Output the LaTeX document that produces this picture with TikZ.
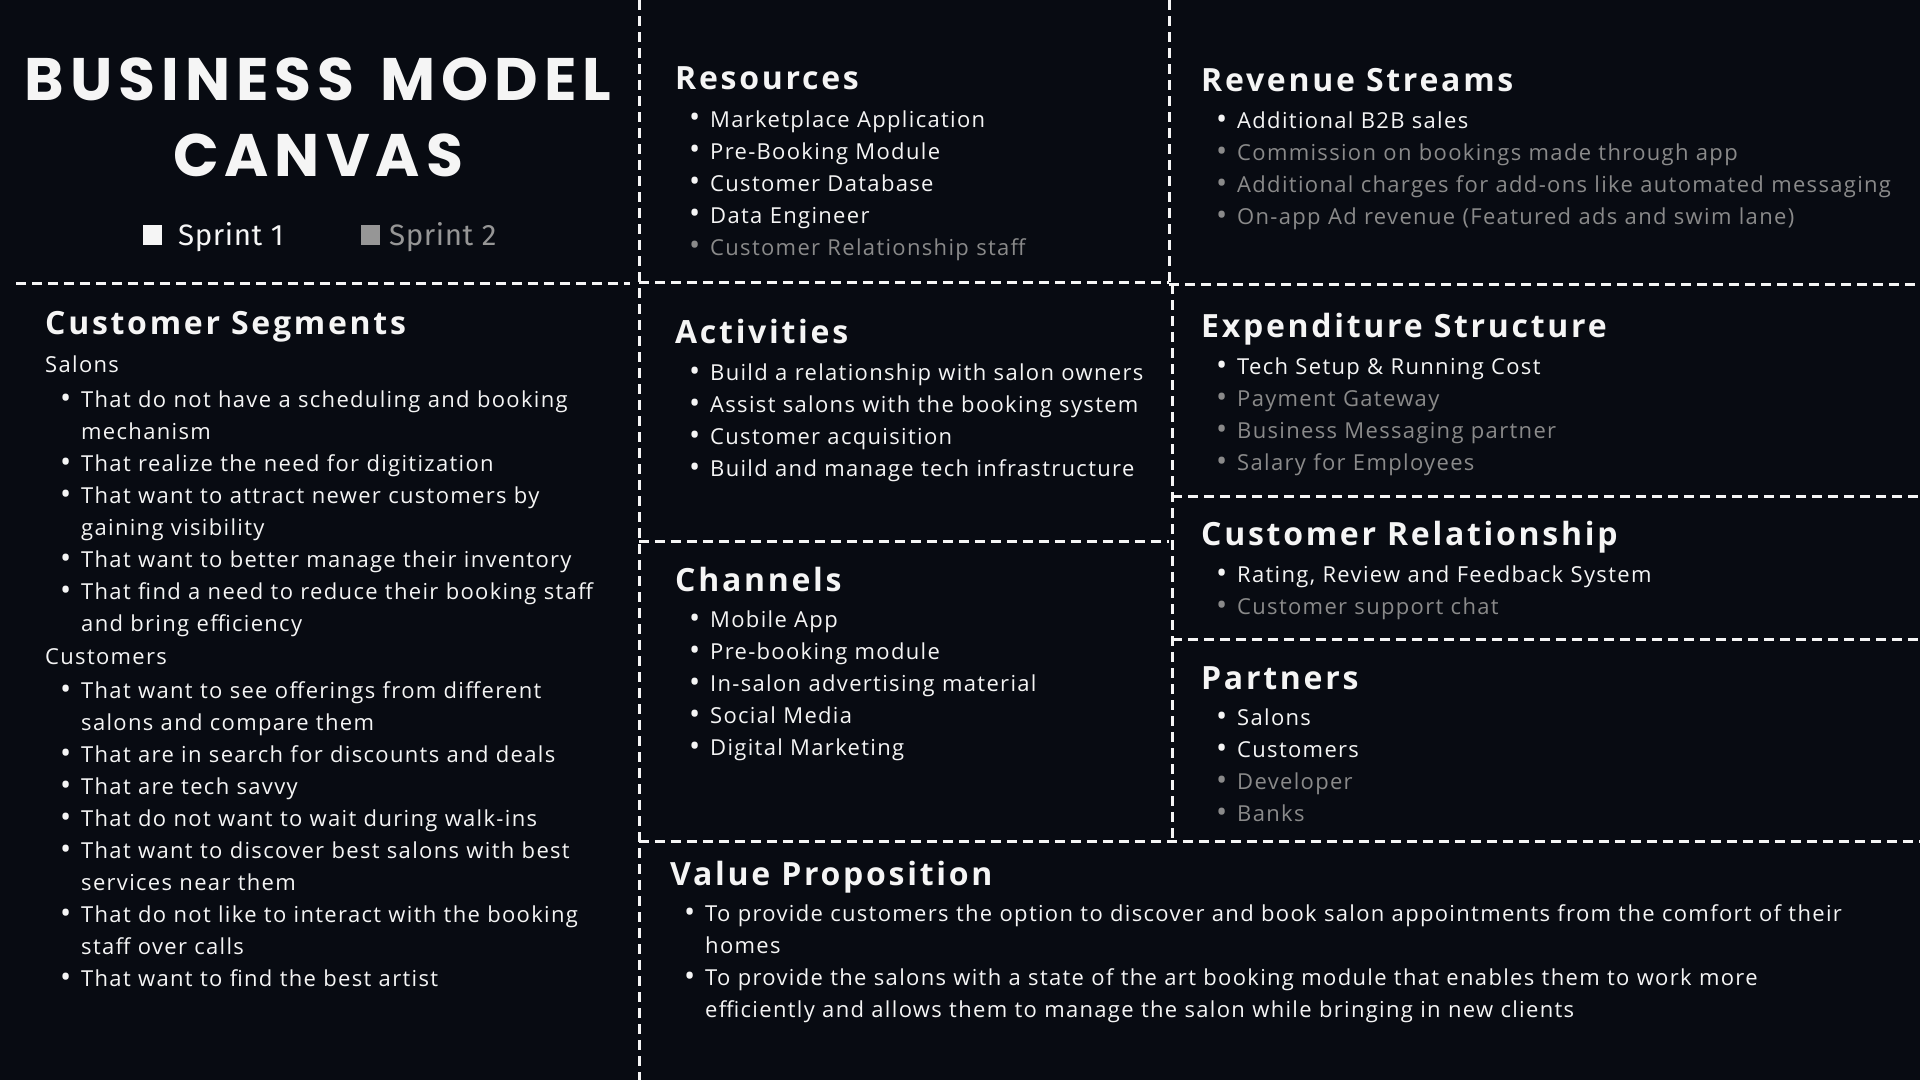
\documentclass[tikz,border=0pt]{standalone}
\usepackage{fontspec}
\setmainfont{Open Sans}
\newfontfamily\titlefont{Poppins}[LetterSpace=10]
\newfontfamily\headfont{Open Sans}[LetterSpace=8.5]
\newfontfamily\bodyfont{Open Sans}[LetterSpace=6]
\newfontfamily\legendfont{Fira Sans}[LetterSpace=2]
\usepackage{tikz}
\usetikzlibrary{positioning}

\definecolor{bgc}{RGB}{8,11,18}
\definecolor{txt}{RGB}{245,245,245}
\definecolor{sgrey}{RGB}{138,138,138}
\definecolor{boxgrey}{RGB}{150,150,150}

% bullet and hanging indent for the item lists
\newcommand{\bl}{\makebox[21pt][l]{\raisebox{-0.08ex}{\scalebox{1.35}{\textbullet}}}}
\newcommand{\hang}{\hspace*{21pt}}

\begin{document}
\begin{tikzpicture}[
    x=1pt, y=-1pt,
    divider/.style={draw=txt, line width=3pt, dash pattern=on 10pt off 6pt},
    title/.style={anchor=base, text=txt, inner sep=0, font=\titlefont\bfseries\fontsize{60}{70}\selectfont},
    heading/.style={anchor=base west, text=txt, inner sep=0, font=\headfont\bfseries\fontsize{32}{38}\selectfont},
    list/.style={anchor=north west, text=txt, inner sep=0, text width=1400pt, align=left, font=\bodyfont\fontsize{22}{32}\selectfont},
    legend/.style={anchor=base west, inner sep=0, font=\legendfont\fontsize{29.5}{32}\selectfont}
]

% Background
\useasboundingbox (0,0) rectangle (1920,1080);
\fill[bgc] (0,0) rectangle (1920,1080);

% Dashed grid of the canvas
\draw[divider] (639,0) -- (639,1080);
\draw[divider] (1169,0) -- (1169,284);
\draw[divider] (1172,284) -- (1172,841);
\draw[divider] (16,283) -- (630,283);
\draw[divider] (639,282) -- (1169,282);
\draw[divider] (1169,284) -- (1920,284);
\draw[divider] (639,541) -- (1169,541);
\draw[divider] (1172,496) -- (1920,496);
\draw[divider] (1172,639) -- (1920,639);
\draw[divider] (639,841) -- (1920,841);

% Title and legend
\node[title] (title1) at (318,100) {BUSINESS\hspace{7pt} MODEL};
\node[title] (title2) at (318,176) {CANVAS};
\fill[txt] (143,225) rectangle (162,245);
\node[legend, text=txt] (sprint1) at (178,245) {Sprint 1};
\fill[boxgrey] (361,225) rectangle (380,245);
\node[legend, text=boxgrey] (sprint2) at (389,245) {Sprint 2};

% Customer Segments
\node[heading] (seghead) at (45,334) {Customer Segments};
\node[list] (seglist) at (45,349.6) {\strut Salons\\[3.5pt]
\hspace*{15pt}\bl That do not have a scheduling and booking\\
\hspace*{36pt}mechanism\\
\hspace*{15pt}\bl That realize the need for digitization\\
\hspace*{15pt}\bl That want to attract newer customers by\\
\hspace*{36pt}gaining visibility\\
\hspace*{15pt}\bl That want to better manage their inventory\\
\hspace*{15pt}\bl That find a need to reduce their booking staff\\
\hspace*{36pt}and bring efficiency\\[1pt]
Customers\\[1.5pt]
\hspace*{15pt}\bl That want to see offerings from different\\
\hspace*{36pt}salons and compare them\\
\hspace*{15pt}\bl That are in search for discounts and deals\\
\hspace*{15pt}\bl That are tech savvy\\
\hspace*{15pt}\bl That do not want to wait during walk-ins\\
\hspace*{15pt}\bl That want to discover best salons with best\\
\hspace*{36pt}services near them\\
\hspace*{15pt}\bl That do not like to interact with the booking\\
\hspace*{36pt}staff over calls\\
\hspace*{15pt}\bl That want to find the best artist};

% Resources
\node[heading] (reshead) at (675,89) {Resources};
\node[list] (reslist) at (689,104.4) {\strut\bl Marketplace Application\\
\bl Pre-Booking Module\\
\bl Customer Database\\
\bl Data Engineer\\
\color{sgrey}\bl Customer Relationship staff};

% Activities
\node[heading] (acthead) at (675,343) {Activities};
\node[list] (actlist) at (689,357.6) {\strut\bl Build a relationship with salon owners\\
\bl Assist salons with the booking system\\
\bl Customer acquisition\\
\bl Build and manage tech infrastructure};

% Channels
\node[heading] (chahead) at (675,591) {Channels};
\node[list] (chalist) at (689,605) {\strut\bl Mobile App\\
\bl Pre-booking module\\
\bl In-salon advertising material\\
\bl Social Media\\
\bl Digital Marketing};

% Revenue Streams
\node[heading] (revhead) at (1201,91) {Revenue Streams};
\node[list] (revlist) at (1216,105.5) {\strut\bl Additional B2B sales\\
\color{sgrey}\bl Commission on bookings made through app\\
\bl Additional charges for add-ons like automated messaging\\
\bl On-app Ad revenue (Featured ads and swim lane)};

% Expenditure Structure
\node[heading] (exphead) at (1201,337) {Expenditure Structure};
\node[list] (explist) at (1216,351.7) {\strut\bl Tech Setup \& Running Cost\\
\color{sgrey}\bl Payment Gateway\\
\bl Business Messaging partner\\
\bl Salary for Employees};

% Customer Relationship
\node[heading] (relhead) at (1201,545) {Customer Relationship};
\node[list] (rellist) at (1216,559.8) {\strut\bl Rating, Review and Feedback System\\
\color{sgrey}\bl Customer support chat};

% Partners
\node[heading] (parhead) at (1201,689) {Partners};
\node[list] (parlist) at (1216,703) {\strut\bl Salons\\
\bl Customers\\
\color{sgrey}\bl Developer\\
\bl Banks};

% Value Proposition
\node[heading] (valhead) at (670,885) {Value Proposition};
\node[list] (vallist) at (684,899) {\strut\bl To provide customers the option to discover and book salon appointments from the comfort of their\\
\hang homes\\
\bl To provide the salons with a state of the art booking module that enables them to work more\\
\hang efficiently and allows them to manage the salon while bringing in new clients};

\end{tikzpicture}
\end{document}
